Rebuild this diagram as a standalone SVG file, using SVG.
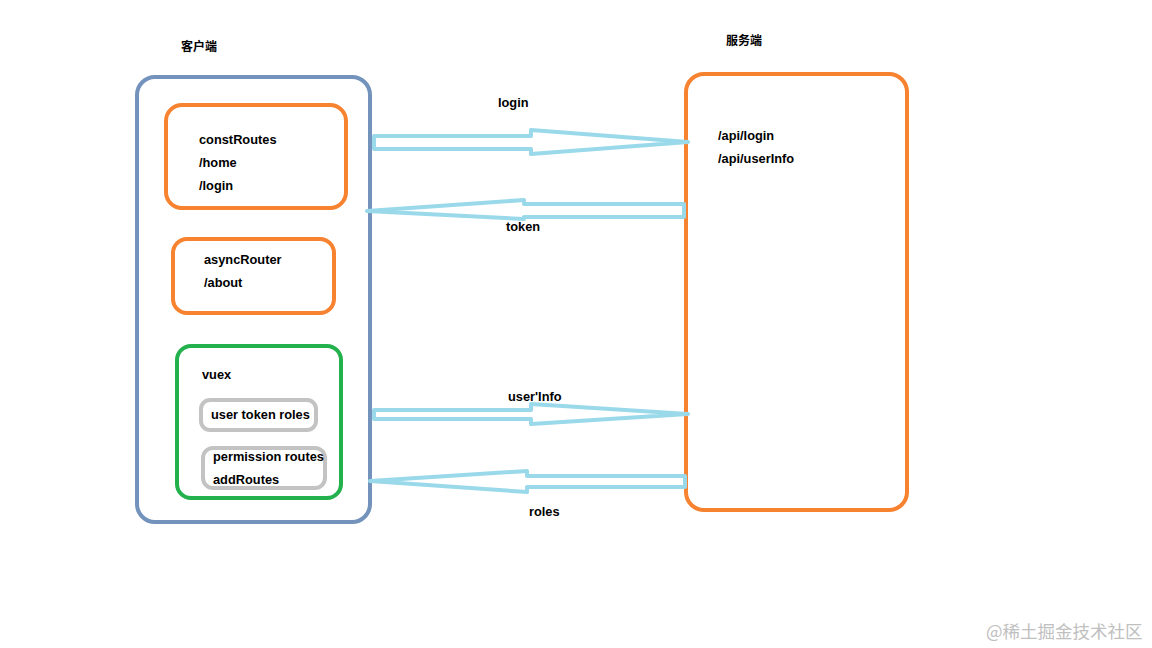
<svg xmlns="http://www.w3.org/2000/svg" width="1152" height="648" viewBox="0 0 1152 648">
<style>
.t{font-family:"Liberation Sans","Noto Sans CJK SC",sans-serif;font-weight:bold;font-size:12.8px;fill:#000}
.h{font-family:"Noto Sans CJK SC","Liberation Sans",sans-serif;font-weight:bold;font-size:12px;fill:#000}
.box{fill:none;stroke-width:4}
.blue{stroke:#7393bd}
.orange{stroke:#f7822f}
.green{stroke:#22b14c}
.gray{stroke:#c3c3c3}
.arr{fill:none;stroke:#99d9ea;stroke-width:4;stroke-linejoin:round}
.wm{font-family:"Noto Sans CJK SC",sans-serif;font-size:17.5px;fill:#c0c0c0}
</style>
<rect width="1152" height="648" fill="#fff"/>
<g id="labels">
<text class="h" x="181" y="51">客户端</text>
<text class="h" x="726" y="45">服务端</text>
</g>
<g id="client">
<rect class="box blue" x="137" y="77" width="233" height="445" rx="18"/>
</g>
<g id="constRoutes">
<rect class="box orange" x="166" y="105" width="180" height="103" rx="16"/>
<text class="t" x="199" y="144">constRoutes</text>
<text class="t" x="199" y="167">/home</text>
<text class="t" x="199" y="190">/login</text>
</g>
<g id="asyncRouter">
<rect class="box orange" x="173" y="239" width="161" height="74" rx="14"/>
<text class="t" x="204" y="264">asyncRouter</text>
<text class="t" x="204" y="287">/about</text>
</g>
<g id="vuex">
<rect class="box green" x="177" y="346" width="164" height="152" rx="14"/>
<text class="t" x="202" y="379">vuex</text>
</g>
<g id="userTokenRoles">
<rect class="box gray" x="201" y="400" width="115" height="30" rx="9"/>
<text class="t" x="211" y="419">user token roles</text>
</g>
<g id="permissionRoutes">
<rect class="box gray" x="203" y="448" width="122" height="40" rx="10"/>
<text class="t" x="213" y="461">permission routes</text>
<text class="t" x="213" y="484">addRoutes</text>
</g>
<g id="server">
<rect class="box orange" x="686" y="74" width="221" height="436" rx="18"/>
<text class="t" x="718" y="140">/api/login</text>
<text class="t" x="718" y="163">/api/userInfo</text>
</g>
<g id="connectors">
<path class="arr" d="M374,136 L531,136 L531,130 L688,142 L531,154 L531,149 L374,149 Z"/>
<path class="arr" d="M684,204 L524,204 L524,200 L367,211 L524,219 L524,217 L684,217 Z"/>
<path class="arr" d="M374,410 L531,410 L531,404 L688,414 L531,424 L531,419 L374,419 Z"/>
<path class="arr" d="M685,476 L527,476 L527,471 L370,481 L527,492 L527,487 L685,487 Z"/>
<text class="t" x="498" y="107">login</text>
<text class="t" x="506" y="231">token</text>
<text class="t" x="508" y="401">user'Info</text>
<text class="t" x="529" y="516">roles</text>
</g>
<text class="wm" x="986" y="638">@稀土掘金技术社区</text>
</svg>
